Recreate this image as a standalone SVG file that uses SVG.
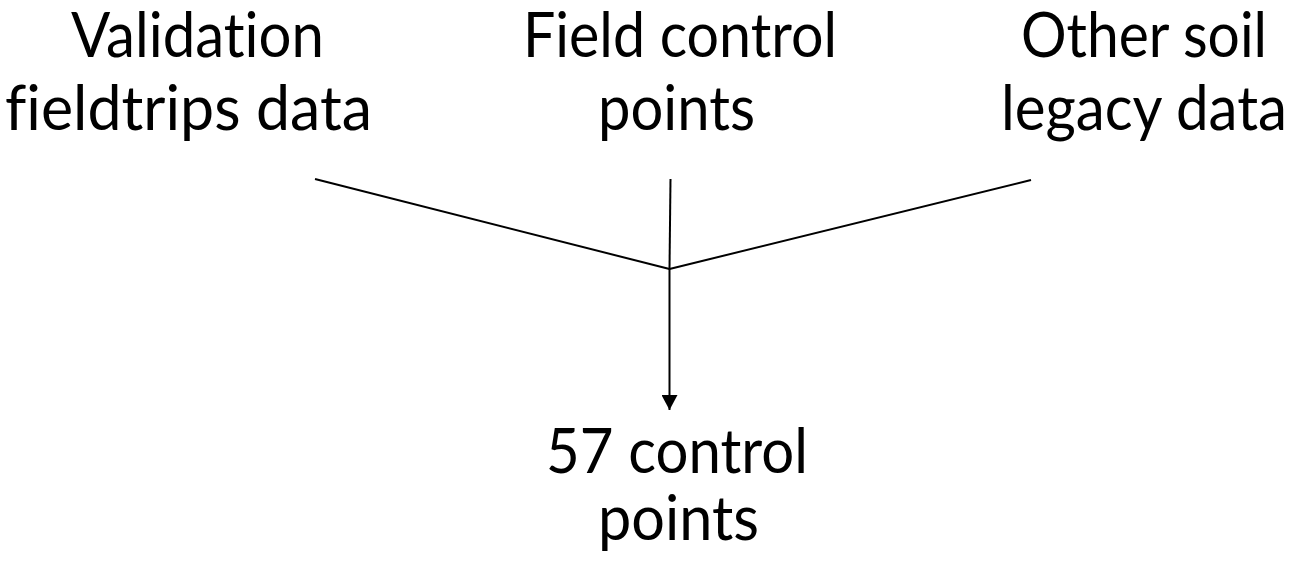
<svg xmlns="http://www.w3.org/2000/svg" width="1297" height="561" viewBox="0 0 1297 561">
  <style>
    .label { font-family: Lato, "Open Sans", "Liberation Sans", sans-serif; font-size: 62px; fill: #000; font-variant-ligatures: none; font-feature-settings: "liga" 0, "clig" 0; }
    .link { stroke: #000; stroke-width: 2; fill: none; }
  </style>
  <defs>
    <marker id="arrow" markerUnits="userSpaceOnUse" markerWidth="16" markerHeight="16" refX="15" refY="8" orient="auto">
      <path d="M0,0 L15,8 L0,16 Z" fill="#000"/>
    </marker>
  </defs>
  <rect width="1297" height="561" fill="#fff"/>

  <g id="connectors">
    <line class="link" x1="315" y1="179" x2="669.5" y2="269"/>
    <line class="link" x1="1031" y1="180" x2="669.5" y2="269"/>
    <line class="link" x1="670.5" y1="179" x2="669.5" y2="269"/>
    <line class="link" x1="669.5" y1="269" x2="669.5" y2="410" marker-end="url(#arrow)"/>
  </g>

  <g id="node-validation">
    <text class="label" x="71" y="57" textLength="253" lengthAdjust="spacingAndGlyphs">Validation</text>
    <text class="label" x="5" y="130" textLength="367" lengthAdjust="spacingAndGlyphs">fieldtrips data</text>
  </g>
  <g id="node-field">
    <text class="label" x="523" y="57" textLength="314" lengthAdjust="spacingAndGlyphs">Field control</text>
    <text class="label" x="598" y="130" textLength="157" lengthAdjust="spacingAndGlyphs">points</text>
  </g>
  <g id="node-legacy">
    <text class="label" x="1021" y="57" textLength="246" lengthAdjust="spacingAndGlyphs">Other soil</text>
    <text class="label" x="1001" y="130" textLength="286" lengthAdjust="spacingAndGlyphs">legacy data</text>
  </g>
  <g id="node-result">
    <text class="label" x="546" y="473" textLength="262" lengthAdjust="spacingAndGlyphs">57 control</text>
    <text class="label" x="598" y="540" textLength="161" lengthAdjust="spacingAndGlyphs">points</text>
  </g>
</svg>
